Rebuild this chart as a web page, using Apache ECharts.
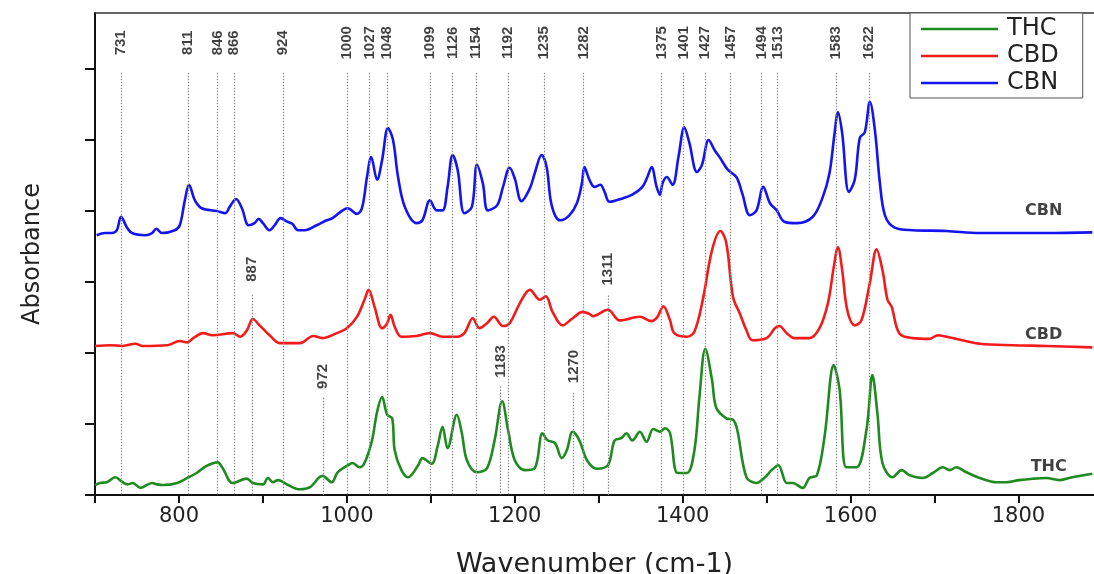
<!DOCTYPE html>
<html>
<head>
<meta charset="utf-8">
<script src="https://cdn.jsdelivr.net/npm/echarts@6/dist/echarts.min.js"></script>
<style>
  html, body { margin: 0; padding: 0; background: #fff; }
  #ftir { width: 1094px; height: 574px; }
</style>
</head>
<body>
<div id="ftir"></div>
<script>
// spectra: [wavenumber cm-1, absorbance (offset units)]
let thc = [[700,0.14],[706,0.17],[714,0.18],[724,0.25],[733,0.18],[739,0.15],[745,0.17],[754,0.10],[768,0.17],[774,0.15],
  [781,0.14],[798,0.17],[810,0.24],[821,0.31],[833,0.41],[846,0.46],[852,0.38],[864,0.17],[881,0.23],[888,0.17],
  [900,0.15],[906,0.24],[912,0.18],[918,0.21],[930,0.14],[944,0.08],[956,0.11],[971,0.27],[982,0.18],[989,0.32],
  [1000,0.41],[1007,0.45],[1015,0.39],[1021,0.45],[1030,0.77],[1036,1.17],[1042,1.38],[1048,1.13],[1054,1.08],[1057,0.63],
  [1065,0.35],[1073,0.25],[1085,0.42],[1090,0.52],[1101,0.44],[1108,0.68],[1114,0.96],[1120,0.66],[1131,1.13],[1137,0.87],
  [1143,0.49],[1155,0.32],[1167,0.38],[1176,0.77],[1185,1.32],[1192,0.92],[1200,0.49],[1212,0.35],[1224,0.38],[1233,0.87],
  [1239,0.77],[1248,0.73],[1256,0.52],[1262,0.63],[1269,0.89],[1277,0.77],[1286,0.49],[1298,0.37],[1311,0.42],[1319,0.77],
  [1327,0.80],[1333,0.87],[1340,0.77],[1349,0.89],[1357,0.75],[1365,0.93],[1373,0.89],[1379,0.94],[1385,0.87],[1394,0.31],
  [1405,0.31],[1414,0.63],[1420,1.38],[1427,2.06],[1435,1.62],[1440,1.23],[1452,1.08],[1460,1.06],[1465,0.92],[1476,0.25],
  [1488,0.17],[1498,0.25],[1506,0.35],[1514,0.42],[1524,0.17],[1531,0.17],[1543,0.10],[1551,0.24],[1560,0.28],[1569,0.82],
  [1580,1.83],[1587,1.48],[1595,0.39],[1607,0.39],[1619,0.92],[1626,1.69],[1632,1.15],[1638,0.45],[1650,0.25],[1661,0.35],
  [1670,0.28],[1686,0.24],[1698,0.31],[1710,0.39],[1718,0.35],[1726,0.39],[1738,0.32],[1754,0.24],[1774,0.18],[1786,0.18],
  [1801,0.21],[1817,0.23],[1833,0.24],[1849,0.21],[1864,0.25],[1888,0.30]];

let cbd = [[700,2.10],[718,2.11],[733,2.10],[748,2.13],[757,2.10],[786,2.11],[801,2.17],[810,2.15],[817,2.21],[829,2.28],
  [840,2.25],[864,2.28],[873,2.23],[881,2.32],[888,2.48],[896,2.39],[908,2.25],[920,2.14],[944,2.14],[960,2.24],
  [971,2.21],[988,2.28],[1000,2.35],[1012,2.51],[1021,2.75],[1026,2.89],[1033,2.65],[1042,2.35],[1048,2.42],[1052,2.54],
  [1057,2.37],[1065,2.23],[1083,2.24],[1099,2.28],[1114,2.23],[1131,2.23],[1140,2.28],[1150,2.49],[1158,2.35],[1167,2.42],
  [1175,2.51],[1186,2.38],[1194,2.42],[1206,2.70],[1218,2.89],[1230,2.75],[1237,2.80],[1245,2.58],[1257,2.39],[1269,2.49],
  [1281,2.58],[1289,2.55],[1293,2.52],[1311,2.61],[1325,2.46],[1349,2.51],[1363,2.45],[1370,2.51],[1377,2.66],[1385,2.46],
  [1390,2.28],[1405,2.23],[1414,2.30],[1424,2.75],[1435,3.45],[1445,3.72],[1452,3.55],[1460,2.79],[1468,2.56],[1476,2.32],
  [1483,2.18],[1500,2.21],[1510,2.35],[1515,2.38],[1524,2.28],[1533,2.21],[1551,2.21],[1563,2.35],[1573,2.70],[1580,3.21],
  [1585,3.49],[1590,3.17],[1596,2.61],[1605,2.39],[1613,2.46],[1623,2.99],[1631,3.46],[1638,3.17],[1644,2.75],[1649,2.65],
  [1658,2.28],[1674,2.21],[1694,2.20],[1704,2.25],[1714,2.23],[1733,2.18],[1754,2.13],[1793,2.11],[1833,2.10],[1888,2.08]];

let cbn = [[702,3.66],[712,3.69],[720,3.69],[726,3.73],[731,3.92],[738,3.77],[744,3.69],[760,3.66],[768,3.69],[773,3.75],
  [780,3.69],[795,3.73],[801,3.80],[807,4.15],[812,4.37],[819,4.15],[827,4.04],[845,4.00],[855,3.97],[861,4.07],
  [868,4.17],[875,4.04],[883,3.80],[890,3.83],[895,3.89],[900,3.83],[908,3.73],[914,3.80],[921,3.90],[929,3.85],
  [935,3.82],[942,3.73],[950,3.73],[964,3.80],[976,3.87],[983,3.90],[995,4.01],[1001,4.04],[1012,3.96],[1018,4.04],
  [1024,4.48],[1029,4.76],[1036,4.44],[1042,4.72],[1049,5.17],[1055,5.00],[1061,4.48],[1069,4.06],[1083,3.83],[1090,3.87],
  [1099,4.15],[1107,4.01],[1114,4.01],[1120,4.34],[1126,4.79],[1132,4.58],[1140,3.97],[1149,4.06],[1155,4.65],[1162,4.39],
  [1168,4.01],[1179,4.08],[1186,4.34],[1194,4.61],[1200,4.46],[1208,4.14],[1218,4.32],[1224,4.54],[1232,4.79],[1238,4.62],
  [1244,4.08],[1254,3.87],[1265,3.94],[1274,4.11],[1280,4.39],[1283,4.62],[1289,4.44],[1295,4.34],[1302,4.37],[1307,4.27],
  [1313,4.13],[1329,4.18],[1340,4.23],[1352,4.34],[1358,4.48],[1363,4.62],[1369,4.34],[1373,4.23],[1376,4.39],[1381,4.48],
  [1388,4.37],[1395,4.76],[1402,5.18],[1408,4.96],[1417,4.55],[1423,4.65],[1431,5.00],[1438,4.86],[1444,4.76],[1454,4.58],
  [1464,4.48],[1471,4.25],[1480,3.94],[1488,4.01],[1496,4.34],[1504,4.11],[1512,4.01],[1521,3.85],[1536,3.83],[1555,3.92],
  [1567,4.20],[1575,4.54],[1581,5.10],[1585,5.39],[1590,5.10],[1598,4.27],[1605,4.44],[1611,5.03],[1617,5.11],[1623,5.54],
  [1629,5.14],[1635,4.39],[1641,3.94],[1652,3.77],[1674,3.73],[1714,3.72],[1754,3.69],[1793,3.69],[1833,3.69],[1888,3.70]];

// band positions marked along the top
let topBands = [731, 811, 846, 866, 924, 1000, 1027, 1048, 1099, 1126, 1154, 1192, 1235, 1282,
  1375, 1401, 1427, 1457, 1494, 1513, 1583, 1622];
// extra bands marked lower down: [wavenumber, label y, line start y]
let lowBands = [[887, 3.18, 2.82], [1311, 3.18, 2.81], [972, 1.67, 1.37], [1183, 1.88, 1.53], [1270, 1.81, 1.44]];

let names = ['THC', 'CBD', 'CBN'];
let colors = ['#1f8a1f', '#f21a1a', '#1414f0'];
let tagPos = [[1836, 0.39], [1830, 2.25], [1830, 4.0]];

let xTicks = [700, 800, 900, 1000, 1100, 1200, 1300, 1400, 1500, 1600, 1700, 1800];
let xLabels = [800, 1000, 1200, 1400, 1600, 1800];
let yTicks = [0, 1, 2, 3, 4, 5, 6];

let sans = "'DejaVu Sans', sans-serif";

let bandLabels = topBands.map(function (w) { return {value: [w, 6.37], name: String(w)}; })
  .concat(lowBands.map(function (b) { return {value: [b[0], b[1]], name: String(b[0])}; }));
let bandLines = topBands.map(function (w) { return [{coord: [w, 5.95]}, {coord: [w, 0]}]; })
  .concat(lowBands.map(function (b) { return [{coord: [b[0], b[2]]}, {coord: [b[0], 0]}]; }));

let series = [thc, cbd, cbn].map(function (d, i) {
  return {
    name: names[i],
    type: 'line',
    data: d,
    smooth: 0.35,
    symbol: 'none',
    lineStyle: {color: colors[i], width: 2.6},
    itemStyle: {color: colors[i]},
    z: 3
  };
});

series.push({
  type: 'scatter',
  data: bandLabels,
  symbolSize: 1,
  itemStyle: {color: 'transparent'},
  silent: true,
  label: {
    show: true,
    position: 'inside',
    rotate: 90,
    formatter: '{b}',
    fontFamily: "'Liberation Sans', Arial, sans-serif",
    fontWeight: 'bold',
    fontSize: 15,
    color: '#111'
  },
  markLine: {
    silent: true,
    symbol: 'none',
    label: {show: false},
    lineStyle: {color: '#8c8c8c', type: [1.5, 1.5], width: 1.2},
    data: bandLines
  },
  z: 2
});

series.push({
  type: 'scatter',
  data: tagPos.map(function (p, i) { return {value: p, name: names[i]}; }),
  symbolSize: 1,
  itemStyle: {color: 'transparent'},
  silent: true,
  label: {
    show: true,
    position: 'inside',
    formatter: '{b}',
    fontFamily: sans,
    fontWeight: 'bold',
    fontSize: 16,
    color: '#111'
  },
  z: 4
});

let option = {
  animation: false,
  backgroundColor: '#fff',
  grid: {left: 95, right: 0, top: 13, bottom: 79, outerBoundsMode: 'none'},
  legend: {
    data: names,
    left: 910,
    top: 13,
    orient: 'vertical',
    icon: 'rect',
    backgroundColor: '#fff',
    borderColor: '#555',
    borderWidth: 1,
    borderRadius: 0,
    padding: [4, 24, 3, 11],
    itemWidth: 77,
    itemHeight: 2.5,
    itemGap: 3,
    textStyle: {
      fontFamily: sans,
      fontSize: 24,
      lineHeight: 24,
      color: '#222',
      padding: [0, 0, 0, 4]
    }
  },
  xAxis: [{
    type: 'value',
    min: 700,
    max: 1890,
    name: 'Wavenumber (cm-1)',
    nameLocation: 'middle',
    nameGap: 56,
    nameTextStyle: {fontFamily: sans, fontSize: 27, color: '#222'},
    axisLine: {lineStyle: {color: '#111', width: 2}},
    axisTick: {length: 8, customValues: xTicks, lineStyle: {color: '#111', width: 2}},
    axisLabel: {
      margin: 11,
      customValues: xLabels,
      formatter: function (v) { return String(v); },
      fontFamily: sans,
      fontSize: 21,
      color: '#222'
    },
    splitLine: {show: false}
  }, {
    type: 'value',
    position: 'top',
    min: 700,
    max: 1890,
    axisLine: {show: true, lineStyle: {color: '#333', width: 1.5}},
    axisTick: {show: false},
    axisLabel: {show: false},
    splitLine: {show: false}
  }],
  yAxis: {
    type: 'value',
    min: 0,
    max: 6.79,
    name: 'Absorbance',
    nameLocation: 'middle',
    nameGap: 50,
    nameTextStyle: {fontFamily: sans, fontSize: 24, color: '#222'},
    axisLine: {show: true, lineStyle: {color: '#111', width: 2}},
    axisTick: {show: true, length: 10, customValues: yTicks, lineStyle: {color: '#111', width: 2}},
    axisLabel: {show: false},
    splitLine: {show: false}
  },
  series: series
};

let myChart = echarts.init(document.getElementById('ftir'));
myChart.setOption(option);
</script>
</body>
</html>
